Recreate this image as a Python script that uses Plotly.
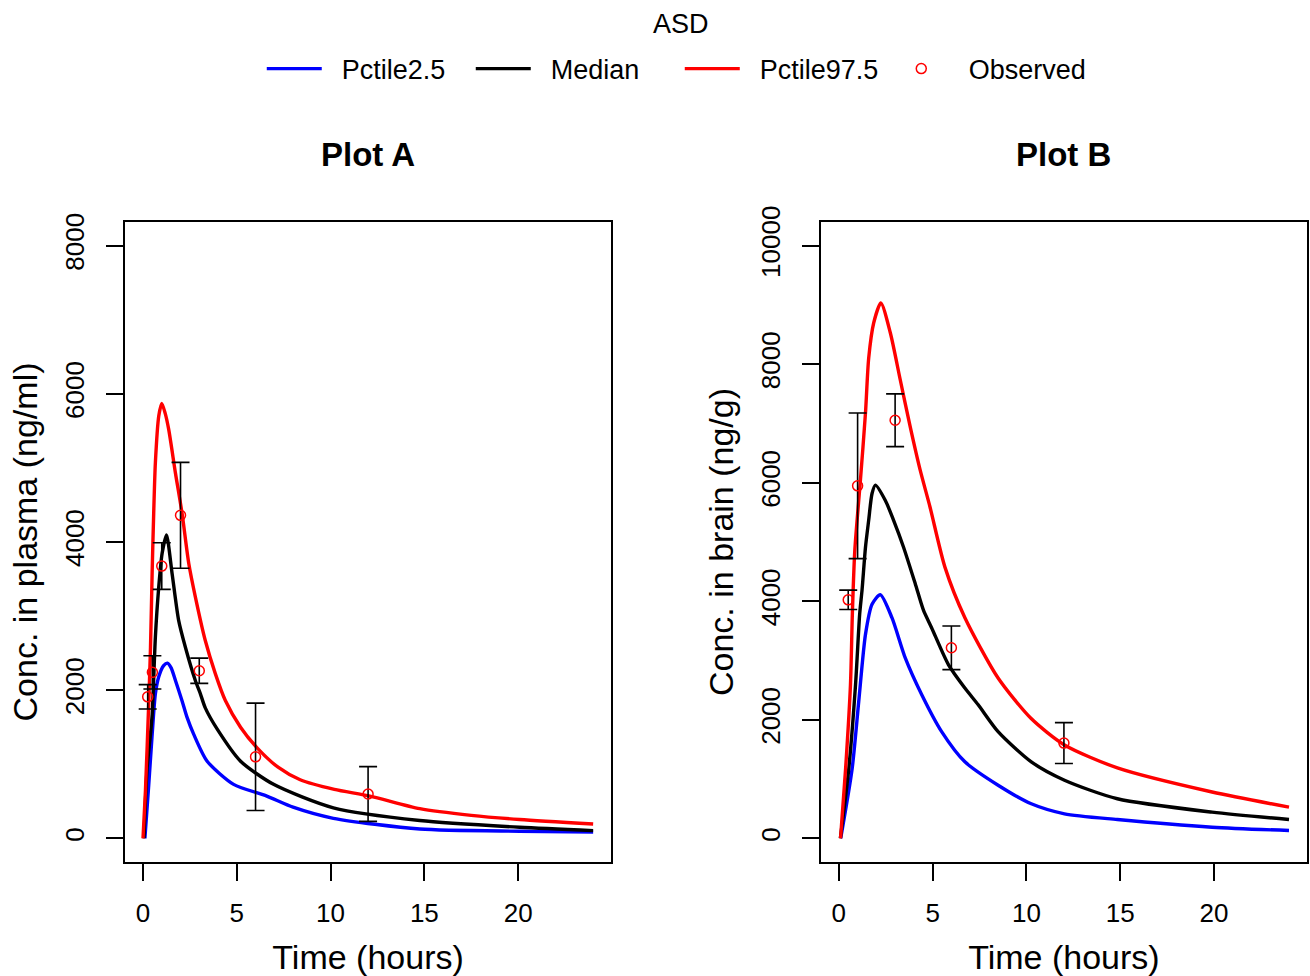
import plotly.graph_objects as go

# ---- Plot A: plasma concentration (ng/ml) ----
a_low_t = [0.1, 0.3, 0.49, 0.66, 0.84, 1.1, 1.3, 1.5, 1.73, 2.08, 2.35, 2.7, 3.41, 4.83, 6.6, 8.0, 10.15, 14.76, 20.08, 24]
a_low_v = [0, 700, 1410, 1950, 2180, 2330, 2364, 2300, 2130, 1858, 1632, 1406, 1044, 728, 570, 420, 270, 125, 95, 85]

a_med_t = [0.05, 0.22, 0.4, 0.49, 0.66, 0.84, 1.02, 1.25, 1.55, 1.9, 2.26, 2.79, 3.06, 3.32, 3.94, 5.19, 6.96, 10.15, 14.76, 20.08, 24]
a_med_v = [0, 950, 1410, 1677, 2716, 3394, 3847, 4095, 3576, 2942, 2580, 2130, 1950, 1760, 1480, 1044, 728, 411, 240, 149, 104]

a_high_t = [0, 0.13, 0.31, 0.4, 0.49, 0.57, 0.66, 0.84, 1.0, 1.18, 1.37, 1.73, 2.08, 2.44, 2.79, 3.32, 3.86, 4.39, 5.2, 6.07, 7.2, 8.38, 10.2, 12.1, 14.76, 17.5, 20.08, 24]
a_high_v = [0, 640, 1860, 2580, 3620, 4390, 5070, 5700, 5870, 5740, 5520, 4930, 4390, 3710, 3260, 2670, 2220, 1860, 1500, 1225, 960, 790, 660, 570, 400, 310, 254, 194]

a_obs_t = [0.25, 0.5, 1, 2, 3, 6, 12]
a_obs_v = [1910, 2240, 3675, 4360, 2262, 1100, 598]
a_obs_sd = [165, 225, 315, 715, 170, 725, 370]

# ---- Plot B: brain concentration (ng/g) ----
b_low_t = [0.1, 0.71, 1.06, 1.42, 1.77, 2.21, 2.83, 3.54, 4.42, 5.48, 6.72, 8.49, 10.26, 12.03, 14.85, 19.9, 24]
b_low_v = [0, 1177, 2309, 3441, 3950, 4110, 3723, 3044, 2423, 1800, 1290, 895, 582, 413, 317, 187, 131]

b_med_t = [0.08, 0.53, 0.89, 1.11, 1.24, 1.42, 1.59, 1.77, 1.95, 2.48, 2.92, 3.45, 4.07, 4.51, 4.95, 5.84, 6.72, 7.43, 8.49, 10.26, 12.03, 14.85, 19.9, 24]
b_med_v = [0, 1177, 2593, 3781, 4200, 4912, 5365, 5818, 5960, 5700, 5365, 4912, 4300, 3850, 3550, 2932, 2535, 2253, 1800, 1290, 980, 667, 441, 317]

b_high_t = [0.09, 0.36, 0.62, 0.72, 0.85, 1.15, 1.42, 1.59, 1.86, 2.24, 2.74, 3.27, 3.8, 4.33, 4.86, 5.66, 6.72, 8.49, 10.24, 12.03, 14.85, 19.9, 24]
b_high_v = [0, 1177, 2593, 3786, 4856, 6044, 7177, 8100, 8700, 9032, 8535, 7742, 6950, 6220, 5591, 4572, 3723, 2705, 2025, 1574, 1188, 781, 526]

b_obs_t = [0.5, 1, 3, 6, 12]
b_obs_v = [4024, 5948, 7055, 3215, 1607]
b_obs_sd = [164, 1228, 445, 368, 345]

x_ticks = [0, 5, 10, 15, 20]
a_y_ticks = [0, 2000, 4000, 6000, 8000]
b_y_ticks = [0, 2000, 4000, 6000, 8000, 10000]

series_names = ["Pctile2.5", "Median", "Pctile97.5"]
series_colors = ["#0000FF", "#000000", "#FF0000"]

FONT = "Liberation Sans, Arial, sans-serif"
PAD = "\u00a0\u00a0"  # gap between legend key and its label

fig = go.Figure()


def add_panel(xref, yref, curves, obs_t, obs_v, obs_sd, show_legend):
    for (t, v), name, color in zip(curves, series_names, series_colors):
        fig.add_trace(go.Scatter(
            x=t, y=v, mode="lines", name=PAD + name,
            line=dict(color=color, width=3.4, shape="spline", smoothing=0.7),
            xaxis=xref, yaxis=yref, showlegend=show_legend, legendgroup=name,
        ))
    fig.add_trace(go.Scatter(
        x=obs_t, y=obs_v, mode="markers", name=PAD + "Observed",
        marker=dict(symbol="circle-open", size=10, color="#FF0000",
                    line=dict(width=1.5, color="#FF0000")),
        error_y=dict(type="data", array=obs_sd, visible=True,
                     color="#000000", thickness=1.6, width=9),
        xaxis=xref, yaxis=yref, showlegend=show_legend, legendgroup="Observed",
    ))


add_panel("x", "y", [(a_low_t, a_low_v), (a_med_t, a_med_v), (a_high_t, a_high_v)],
          a_obs_t, a_obs_v, a_obs_sd, True)
add_panel("x2", "y2", [(b_low_t, b_low_v), (b_med_t, b_med_v), (b_high_t, b_high_v)],
          b_obs_t, b_obs_v, b_obs_sd, False)

axis_common = dict(
    showline=True, mirror=True, linecolor="black", linewidth=1.6,
    ticks="outside", ticklen=17, tickwidth=1.6, tickcolor="black",
    tickfont=dict(family=FONT, size=26, color="black"),
    showgrid=False, zeroline=False,
)
x_common = dict(range=[-0.96, 24.96], tickvals=x_ticks, ticklabelstandoff=10,
                **axis_common)
y_common = dict(tickangle=-90, ticklabelstandoff=12, **axis_common)
title_font = dict(size=34, family=FONT)

fig.update_layout(
    width=1310, height=976,
    margin=dict(l=125, r=1, t=222, b=114),
    paper_bgcolor="white", plot_bgcolor="white",
    font=dict(family=FONT, color="black"),
    xaxis=dict(domain=[0, 0.4113],
               title=dict(text="Time (hours)", font=title_font, standoff=18),
               **x_common),
    xaxis2=dict(domain=[0.5887, 1], anchor="y2",
                title=dict(text="Time (hours)", font=title_font, standoff=18),
                **x_common),
    yaxis=dict(range=[-320, 8320], tickvals=a_y_ticks,
               ticktext=[str(v) for v in a_y_ticks],
               title=dict(text="Conc. in plasma (ng/ml)", font=title_font, standoff=12),
               **y_common),
    yaxis2=dict(range=[-400, 10400], tickvals=b_y_ticks, anchor="x2",
                ticktext=[str(v) for v in b_y_ticks],
                title=dict(text="Conc. in brain (ng/g)", font=title_font, standoff=12),
                **y_common),
    legend=dict(
        orientation="h", x=(270 - 125 - 8) / 1184, xanchor="left",
        y=1.239, yanchor="middle",
        font=dict(size=27), bgcolor="rgba(0,0,0,0)",
        itemwidth=55, entrywidth=139,
    ),
    annotations=[
        dict(text="ASD", x=0.4704, y=1 + (222 - 24) / 640, xref="paper", yref="paper",
             xanchor="center", yanchor="middle", showarrow=False,
             font=dict(size=27, family=FONT)),
        dict(text="<b>Plot A</b>", x=0.2057, y=1.1047, xref="paper", yref="paper",
             xanchor="center", yanchor="middle", showarrow=False,
             font=dict(size=33, family=FONT)),
        dict(text="<b>Plot B</b>", x=0.7943, y=1.1047, xref="paper", yref="paper",
             xanchor="center", yanchor="middle", showarrow=False,
             font=dict(size=33, family=FONT)),
    ],
)

fig.write_html("out.html")
